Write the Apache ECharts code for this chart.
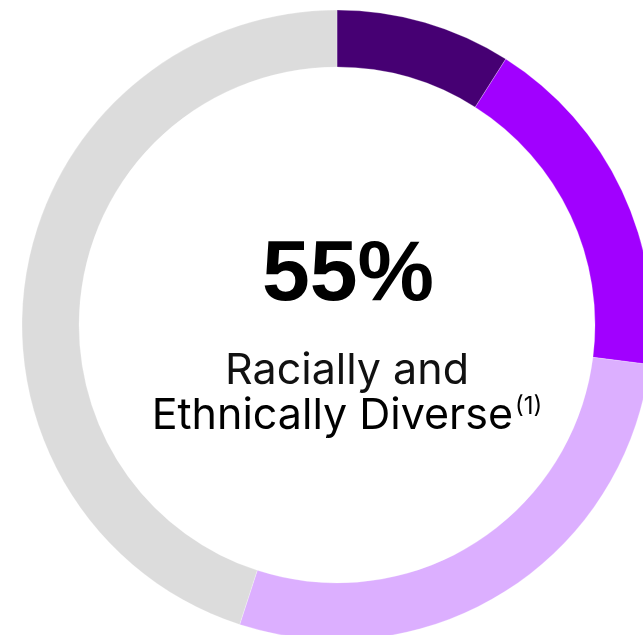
<!DOCTYPE html>
<html>
    <head>
        <meta charset='utf-8'>
        <script src="https://cdn.jsdelivr.net/npm/echarts@6/dist/echarts.min.js"></script>
    </head>
    <body>
        <style>
            html, body, #main {
                width: 100%;
                height: 100%;
                margin: 0;
                background: #fff;
            }
        </style>
        <div id='main'></div>
        <script>
        var groups = ['Group A', 'Group B', 'Group C', 'Other'];
        var shares = [9, 18, 28, 45];
        var colors = ['#460073', '#a100ff', '#dcafff', '#dcdcdc'];
        var headline = '55%';
        var captionLines = ['Racially and', 'Ethnically Diverse'];
        var footnote = '(1)';

        var chart = echarts.init(document.getElementById('main'));

        var option = {
            backgroundColor: '#fff',
            animation: false,
            series: [{
                type: 'pie',
                center: [337, 325],
                radius: [258, 315],
                startAngle: 90,
                clockwise: true,
                silent: true,
                label: { show: false },
                labelLine: { show: false },
                itemStyle: {
                    borderColor: 'rgba(255,255,255,0.5)',
                    borderWidth: 0.5
                },
                data: groups.map(function (name, i) {
                    return { name: name, value: shares[i], itemStyle: { color: colors[i] } };
                })
            }],
            graphic: [{
                type: 'text',
                x: 348,
                y: 276,
                style: {
                    text: headline,
                    font: 'bold 86px "Liberation Sans"',
                    fill: '#000',
                    align: 'center',
                    verticalAlign: 'middle'
                }
            }, {
                type: 'text',
                x: 347,
                y: 371,
                style: {
                    text: captionLines[0],
                    font: '43px Inter',
                    fill: '#111',
                    align: 'center',
                    verticalAlign: 'middle'
                }
            }, {
                type: 'text',
                x: 347,
                y: 416,
                style: {
                    text: '{a|' + captionLines[1] + '}{s|' + footnote + '}',
                    align: 'center',
                    verticalAlign: 'middle',
                    rich: {
                        a: { fontFamily: 'Inter', fontSize: 43, color: '#111', lineHeight: 48 },
                        s: { fontFamily: 'Inter', fontSize: 24, color: '#111', verticalAlign: 'top', lineHeight: 24, padding: [3, 0, 0, 2] }
                    }
                }
            }]
        };

        chart.setOption(option);
        </script>
    </body>
</html>
